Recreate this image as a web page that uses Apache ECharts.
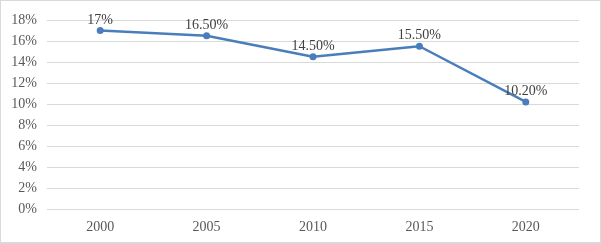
<!DOCTYPE html>
<html>
<head>
<meta charset="utf-8" />
<title>Line chart</title>
<style>
  html, body { margin: 0; padding: 0; background: #fff; }
  #chart { width: 601px; height: 244px; box-sizing: border-box; border: 1px solid #d9d9d9; border-bottom-width: 2px; }
</style>
</head>
<body>
<div id="chart"></div>
<script src="https://cdn.jsdelivr.net/npm/echarts@6/dist/echarts.min.js"></script>
<script>
const years = ['2000', '2005', '2010', '2015', '2020'];
const rates = [17, 16.5, 14.5, 15.5, 10.2];
const rateLabels = ['17%', '16.50%', '14.50%', '15.50%', '10.20%'];

const chart = echarts.init(document.getElementById('chart'));
chart.setOption({
  animation: false,
  textStyle: { fontFamily: 'Liberation Serif' },
  grid: { left: 46, right: 21, top: 19, bottom: 33 },
  xAxis: {
    type: 'category',
    data: years,
    axisLine: { show: false },
    axisTick: { show: false },
    axisLabel: { color: '#595959', fontSize: 14, margin: 11, fontFamily: 'Liberation Serif' }
  },
  yAxis: {
    type: 'value',
    min: 0,
    max: 18,
    interval: 2,
    axisLine: { show: false },
    axisTick: { show: false },
    splitLine: { lineStyle: { color: '#d9d9d9', width: 1 } },
    axisLabel: { color: '#595959', fontSize: 14, margin: 10, formatter: '{value}%', fontFamily: 'Liberation Serif' }
  },
  series: [{
    type: 'line',
    data: rates,
    symbol: 'circle',
    symbolSize: 7,
    lineStyle: { color: '#4a7ebb', width: 2.5 },
    itemStyle: { color: '#4a7ebb' },
    label: {
      show: true,
      position: 'top',
      distance: 0,
      color: '#404040',
      fontSize: 14,
      fontFamily: 'Liberation Serif',
      formatter: p => rateLabels[p.dataIndex]
    }
  }]
});
</script>
</body>
</html>
